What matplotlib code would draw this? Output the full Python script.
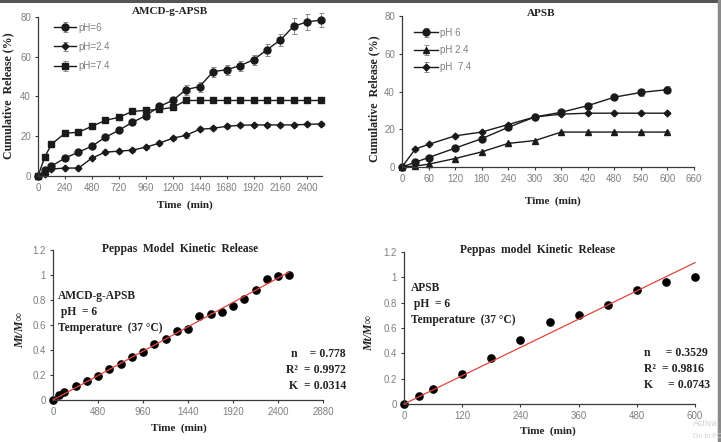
import numpy as np
import matplotlib
matplotlib.use("Agg")
import matplotlib.pyplot as plt
from matplotlib.lines import Line2D

# ----- data ----------------------------------------------------------
T_AMCD = [0, 60, 120, 240, 360, 480, 600, 720, 840, 960, 1080, 1200, 1320,
          1440, 1560, 1680, 1800, 1920, 2040, 2160, 2280, 2400, 2520]
AMCD_PH6 = [0, 3, 5, 9, 12, 15, 19.5, 23, 27, 30.3, 35, 38, 43.5, 45, 52.5,
            53.5, 55.5, 58.5, 63.5, 68.5, 75.5, 77.5, 78.5]
AMCD_PH24 = [0, 1, 3.5, 4, 4, 9, 12, 12.5, 13, 14.5, 16.5, 19, 20.5, 23.5,
             24, 25, 25.5, 25.7, 25.7, 25.7, 25.7, 26, 26.2]
AMCD_PH74 = [0, 9.5, 16, 21.5, 22, 25, 28, 29.5, 32.5, 33, 33.5, 34.5, 38,
             38, 38, 38, 38, 38, 38, 38, 38, 38, 38]
AMCD_ERR6 = [0, 0.5, 0.5, 0.8, 0.8, 0.8, 1, 1, 1.5, 1.5, 1.5, 1.5, 2.5, 2.5,
             2.5, 2.5, 2.5, 2.5, 3, 3, 4, 4, 3.5]
AMCD_ERR24 = [0, 0.3, 0.5, 0.5, 0.5, 0.5, 0.8, 0.8, 1, 1, 1, 1, 1.2, 1, 1,
              1, 1, 1, 1, 1, 1, 1, 1]
AMCD_ERR74 = [0, 0.8, 0.8, 0.8, 0.8, 1, 1, 1, 1.2, 1.2, 1.2, 1.5, 1.5, 1.5,
              1.5, 1.5, 1.5, 1.5, 1.5, 1.5, 1.5, 1.5, 1.5]

T_APSB = [0, 30, 60, 120, 180, 240, 300, 360, 420, 480, 540, 600]
APSB_PH6 = [0, 2.5, 5, 10, 15, 21, 26.5, 29, 32.5, 37, 39.5, 41]
APSB_PH24 = [0, 0.5, 1.5, 4.5, 8, 12.5, 14, 18.5, 18.5, 18.5, 18.5, 18.5]
APSB_PH74 = [0, 9.5, 12, 16.5, 18.5, 22.5, 26.5, 28, 28.5, 28.5, 28.5, 28.5]
APSB_ERR6 = [0, 0.5, 0.5, 0.5, 0.5, 0.8, 1, 1, 1.2, 1.2, 1.8, 2]
APSB_ERR = [0, 0.4, 0.4, 0.4, 0.4, 0.5, 0.5, 0.6, 0.6, 0.6, 0.6, 0.6]

PEP_AMCD = [0, 0.04, 0.065, 0.115, 0.15, 0.195, 0.25, 0.29, 0.345, 0.385,
            0.45, 0.485, 0.55, 0.57, 0.67, 0.685, 0.705, 0.75, 0.81, 0.88,
            0.965, 0.995, 1.0]
PEP_APSB = [0, 0.06, 0.12, 0.24, 0.36, 0.505, 0.645, 0.70, 0.785, 0.90,
            0.96, 1.0]

W, H = 721, 442
DARK = "#3a3a3a"
TICK = "#7f7f7f"
SERIF = ["Liberation Serif", "DejaVu Serif"]
SANS = ["Liberation Sans", "DejaVu Sans"]

plt.rcParams["font.family"] = SANS


def box(x0, y0, x1, y1):
    """pixel box (left, top, right, bottom) -> axes rect"""
    return [x0 / W, 1 - y1 / H, (x1 - x0) / W, (y1 - y0) / H]


def ftext(fig, x, y, s, **kw):
    kw.setdefault("family", SERIF)
    kw.setdefault("fontweight", "bold")
    kw.setdefault("color", "#222222")
    fig.text(x / W, 1 - y / H, s, **kw)


def style(ax, xticks, yticks, ylabels=None):
    for side in ("top", "right"):
        ax.spines[side].set_visible(False)
    for side in ("left", "bottom"):
        ax.spines[side].set_color(DARK)
        ax.spines[side].set_linewidth(0.9)
    ax.set_xticks(xticks)
    ax.set_yticks(yticks)
    if ylabels is not None:
        ax.set_yticklabels(ylabels)
    ax.tick_params(direction="out", length=2.5, width=0.8, color=DARK,
                   labelsize=7, labelcolor=TICK, pad=2.5)


fig = plt.figure(figsize=(W / 100, H / 100), dpi=100)

# ----- top left: AMCD-g-APSB -----------------------------------------
ax1 = fig.add_axes(box(38, 17, 322, 176))
kw = dict(color="#1a1a1a", lw=1.0, ecolor="#888888", elinewidth=0.7,
          capsize=1.8, capthick=0.7)
ax1.errorbar(T_AMCD, AMCD_PH6, yerr=AMCD_ERR6, marker="o", ms=5.0,
             label="pH=6", **kw)
ax1.errorbar(T_AMCD, AMCD_PH24, yerr=AMCD_ERR24, marker="D", ms=3.4,
             label="pH=2.4", **kw)
ax1.errorbar(T_AMCD, AMCD_PH74, yerr=AMCD_ERR74, marker="s", ms=4.6,
             label="pH=7.4", **kw)
ax1.set_xlim(0, 2530)
ax1.set_ylim(0, 80)
style(ax1, range(0, 2401, 240), range(0, 81, 20))
leg = ax1.legend(loc="upper left", bbox_to_anchor=(0.025, 1.02),
                 frameon=False, fontsize=7, handlelength=2.3,
                 labelspacing=0.95, handletextpad=0.25)
for t in leg.get_texts():
    t.set_color(TICK)

# ----- top right: APSB ------------------------------------------------
ax2 = fig.add_axes(box(402, 16, 694, 167))
ax2.errorbar(T_APSB, APSB_PH6, yerr=APSB_ERR6, marker="o", ms=5.0,
             label="pH 6", **kw)
ax2.errorbar(T_APSB, APSB_PH24, yerr=APSB_ERR, marker="^", ms=4.2,
             label="pH 2.4", **kw)
ax2.errorbar(T_APSB, APSB_PH74, yerr=APSB_ERR, marker="D", ms=3.4,
             label="pH  7.4", **kw)
ax2.set_xlim(0, 660)
ax2.set_ylim(0, 80)
style(ax2, range(0, 661, 60), range(0, 81, 20))
leg = ax2.legend(loc="upper left", bbox_to_anchor=(0.01, 0.98), frameon=False,
                 fontsize=7, handlelength=2.5, labelspacing=0.75,
                 handletextpad=0.2)
for t in leg.get_texts():
    t.set_color(TICK)


# ----- bottom: Peppas fits ----------------------------------------------
def fit_line(t, y):
    t = np.asarray(t, float)
    y = np.asarray(y, float)
    return np.dot(t, y) / np.dot(t, t)


ax3 = fig.add_axes(box(53, 250, 323, 400))
ax3.plot(T_AMCD, PEP_AMCD, "o", color="black", ms=5.2, zorder=2)
k3 = fit_line(T_AMCD, PEP_AMCD)
ax3.plot([0, T_AMCD[-1]], [0, k3 * T_AMCD[-1]], color="#e0453a", lw=0.9,
         zorder=3)
ax3.set_xlim(0, 2880)
ax3.set_ylim(0, 1.2)
style(ax3, range(0, 2881, 480), np.arange(0, 1.21, 0.2),
      ["0", "0.2", "0.4", "0.6", "0.8", "1", "1.2"])

ax4 = fig.add_axes(box(404, 252, 695, 404))
ax4.plot(T_APSB, PEP_APSB, "o", color="black", ms=5.2, zorder=2)
k4 = fit_line(T_APSB, PEP_APSB)
ax4.plot([0, T_APSB[-1]], [0, k4 * T_APSB[-1] * 1.012], color="#e0453a",
         lw=0.9, zorder=3)
ax4.set_xlim(0, 600)
ax4.set_ylim(0, 1.2)
style(ax4, range(0, 601, 120), np.arange(0, 1.21, 0.2),
      ["0", "0.2", "0.4", "0.6", "0.8", "1", "1.2"])

for ax in (ax1, ax2, ax3, ax4):
    for a in ax.get_children():
        if hasattr(a, "set_clip_on"):
            a.set_clip_on(False)

# ----- titles and labels ------------------------------------------------
ftext(fig, 170, 12, "AMCD-g-APSB", fontsize=8, ha="center", va="center")
ftext(fig, 541, 13, "APSB", fontsize=8, ha="center", va="center")
ftext(fig, 180, 249, "Peppas  Model  Kinetic  Release", fontsize=8.3,
      ha="center", va="center")
ftext(fig, 538, 250, "Peppas  model  Kinetic  Release", fontsize=8.3,
      ha="center", va="center")

ftext(fig, 8, 96, "Cumulative  Release (%)", fontsize=8.6, rotation=90,
      ha="center", va="center")
ftext(fig, 374, 99, "Cumulative  Release (%)", fontsize=8.6, rotation=90,
      ha="center", va="center")
ftext(fig, 185, 205, "Time  (min)", fontsize=8, ha="center", va="center")
ftext(fig, 553, 201, "Time  (min)", fontsize=8, ha="center", va="center")
ftext(fig, 179, 428, "Time  (min)", fontsize=8, ha="center", va="center")
ftext(fig, 548, 431, "Time  (min)", fontsize=8, ha="center", va="center")

ftext(fig, 20, 330, "Mt/M\u221e", fontsize=8.5, fontstyle="italic",
      rotation=90, ha="center", va="center")
ftext(fig, 369, 333, "Mt/M\u221e", fontsize=8.5, fontstyle="italic",
      rotation=90, ha="center", va="center")

ftext(fig, 58, 312, "AMCD-g-APSB\n pH  = 6\nTemperature  (37 \u00b0C)",
      fontsize=8.3, ha="left", va="center", linespacing=1.45)
ftext(fig, 411, 304, "APSB\n pH  = 6\nTemperature  (37 \u00b0C)",
      fontsize=8.3, ha="left", va="center", linespacing=1.4)

ftext(fig, 346, 370, "n    = 0.778\nR\u00b2  = 0.9972\nK  = 0.0314",
      fontsize=8.5, ha="right", va="center", linespacing=1.42,
      multialignment="right")
ftext(fig, 710, 369, "n     = 0.3529\nR\u00b2  = 0.9816\nK     = 0.0743",
      fontsize=8.5, ha="right", va="center", linespacing=1.42,
      multialignment="left")

ftext(fig, 693, 424, "Activa", fontsize=6.5, ha="left", va="center",
      family=SANS, fontweight="normal", color="#d0d0d0")
ftext(fig, 693, 436, "Go to PC", fontsize=5, ha="left", va="center",
      family=SANS, fontweight="normal", color="#d0d0d0")

# frame of the screenshot
fig.add_artist(Line2D([0, 1], [1 - 1 / H, 1 - 1 / H], color="#555555",
                      lw=2.2, transform=fig.transFigure))
fig.add_artist(Line2D([1 - 2 / W, 1 - 2 / W], [0, 1], color="#8a8a8a",
                      lw=2.5, transform=fig.transFigure))

fig.savefig("out.png", dpi=100, facecolor="white")
